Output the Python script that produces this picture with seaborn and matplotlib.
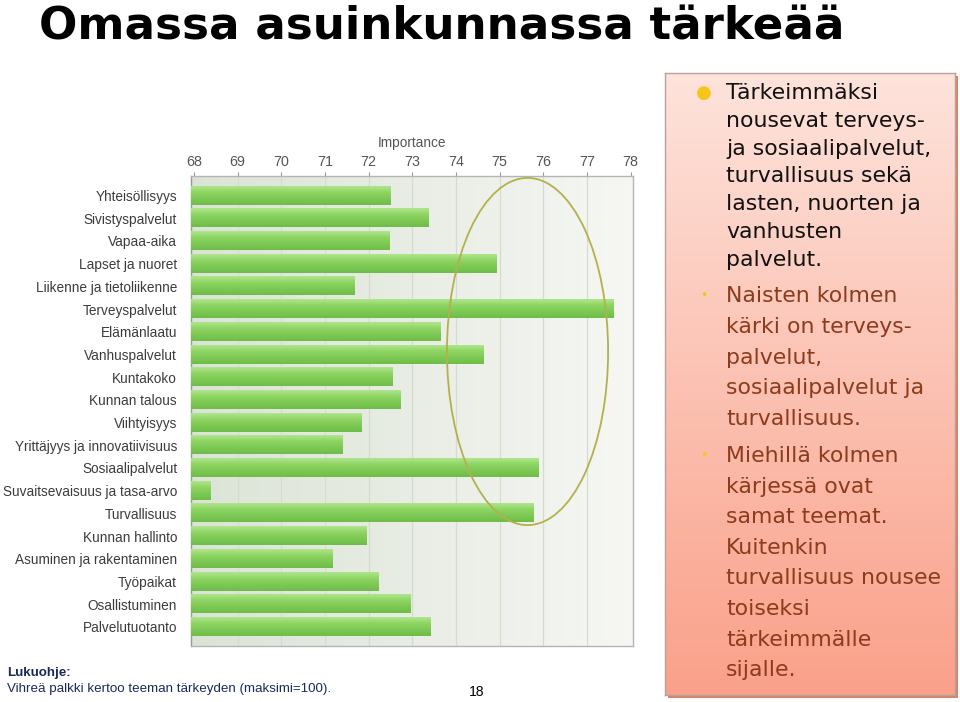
import numpy as np
import pandas as pd
import matplotlib.pyplot as plt
import seaborn as sns
from matplotlib import font_manager
from matplotlib.patches import Ellipse

# Teemat ja tärkeys (luettu kuvasta)
teemat = ['Yhteisöllisyys', 'Sivistyspalvelut', 'Vapaa-aika', 'Lapset ja nuoret',
          'Liikenne ja tietoliikenne', 'Terveyspalvelut', 'Elämänlaatu', 'Vanhuspalvelut',
          'Kuntakoko', 'Kunnan talous', 'Viihtyisyys', 'Yrittäjyys ja innovatiivisuus',
          'Sosiaalipalvelut', 'Suvaitsevaisuus ja tasa-arvo', 'Turvallisuus', 'Kunnan hallinto',
          'Asuminen ja rakentaminen', 'Työpaikat', 'Osallistuminen', 'Palvelutuotanto']
tarkeys = [72.50, 73.38, 72.47, 74.94, 71.68, 77.61, 73.65, 74.64, 72.55, 72.73,
           71.84, 71.41, 75.88, 68.38, 75.77, 71.95, 71.18, 72.23, 72.97, 73.41]
xticks = list(range(68, 79))

bullet1 = ['Tärkeimmäksi', 'nousevat terveys-', 'ja sosiaalipalvelut,', 'turvallisuus sekä',
           'lasten, nuorten ja', 'vanhusten', 'palvelut.']
bullet2 = ['Naisten kolmen', 'kärki on terveys-', 'palvelut,', 'sosiaalipalvelut ja',
           'turvallisuus.']
bullet3 = ['Miehillä kolmen', 'kärjessä ovat', 'samat teemat.', 'Kuitenkin',
           'turvallisuus nousee', 'toiseksi', 'tärkeimmälle', 'sijalle.']

df = pd.DataFrame({'Teema': teemat, 'Importance': tarkeys})

sns.set_theme(style='white')
plt.rcParams['font.family'] = ['DejaVu Sans']

names = {f.name for f in font_manager.fontManager.ttflist}
if 'Liberation Sans Narrow' in names:
    narrow, lab_size, foot_size = 'Liberation Sans Narrow', 11.5, 10.5
else:
    narrow, lab_size, foot_size = 'Liberation Sans', 9.8, 9.6

W, H = 960, 702
def px(x, y):
    return x / W, 1 - y / H

fig = plt.figure(figsize=(9.6, 7.02), dpi=100)
fig.patch.set_facecolor('white')

# title
fig.text(*px(39, 39), 'Omassa asuinkunnassa tärkeää', fontsize=32.6, fontweight='bold',
         color='black', va='baseline', ha='left')

# chart
ax = fig.add_axes([191 / W, 1 - 646 / H, 442 / W, 470 / H])
sns.barplot(data=df, y='Teema', x='Importance', color='#8fd466', width=0.8,
            saturation=1, ax=ax, zorder=2)
xl = (67.934, 78.055)
yl = (19.84, -0.86)

# background gradient
bg = np.linspace(0, 1, 256)[None, :, None]
c0 = np.array([0.86, 0.89, 0.84])
c1 = np.array([0.965, 0.97, 0.955])
ax.imshow(c0 + (c1 - c0) * bg, extent=[0, 1, 0, 1], transform=ax.transAxes,
          aspect='auto', zorder=0)
for t in xticks[1:-1]:
    ax.axvline(t, color='#d6dad0', lw=0.9, zorder=0.5)

# green gradient on bars
g = np.linspace(0, 1, 64)[:, None, None]
top = np.array([0.69, 0.90, 0.55])
mid = np.array([0.55, 0.83, 0.38])
bot = np.array([0.43, 0.74, 0.28])
grad = np.where(g < 0.35, top + (mid - top) * (g / 0.35), mid + (bot - mid) * ((g - 0.35) / 0.65))
for p in list(ax.patches):
    y0, h, w = p.get_y(), p.get_height(), p.get_width()
    ax.imshow(grad, extent=[xl[0], w, y0 + h, y0], aspect='auto', zorder=3)
    p.set_visible(False)
ax.set_xlim(*xl)
ax.set_ylim(*yl)

ax.add_patch(Ellipse((75.64, 6.87), 3.69, 15.29, fill=False, edgecolor='#b4b04c',
                     lw=1.3, zorder=5, clip_on=False))

ax.xaxis.tick_top()
ax.xaxis.set_label_position('top')
ax.set_xticks(xticks)
ax.set_xlabel('Importance', fontsize=lab_size, color='#555555', labelpad=6, family=narrow)
ax.set_ylabel('')
ax.tick_params(axis='x', top=True, length=3, width=0.8, color='#999999', pad=2,
               labelsize=lab_size + 0.5, labelcolor='#555555')
ax.tick_params(axis='y', left=False, pad=4, labelsize=lab_size, labelcolor='#3c3c3c')
for lab in ax.get_xticklabels() + ax.get_yticklabels():
    lab.set_family(narrow)
for s in ax.spines.values():
    s.set_color('#b5b5b5')
    s.set_linewidth(1)
ax.spines['left'].set_color('#9a9a9a')

# right text box with shadow
sh = fig.add_axes([668 / W, 1 - 698 / H, 290 / W, 622 / H], zorder=1)
sh.set_facecolor('#d9826a')
sh.set_xticks([])
sh.set_yticks([])
for s in sh.spines.values():
    s.set_visible(False)
bx = fig.add_axes([665 / W, 1 - 695 / H, 290 / W, 622 / H], zorder=2)
vg = np.linspace(0, 1, 256)[:, None, None]
p0 = np.array([0.995, 0.89, 0.86])
p1 = np.array([0.98, 0.63, 0.54])
bx.imshow(p0 + (p1 - p0) * vg, extent=[0, 1, 0, 1], aspect='auto')
bx.set_xticks([])
bx.set_yticks([])
for s in bx.spines.values():
    s.set_color('#b8a29c')
    s.set_linewidth(1)

brown = '#8c3b1c'
fs = 15.8
fig.text(*px(704, 93), '●', fontsize=13, color='#f5c518', ha='center', va='center', zorder=5)
for i, line in enumerate(bullet1):
    fig.text(*px(726, 93 + i * 27.8), line, fontsize=fs, color='#111111', va='center', zorder=5)
fig.text(*px(704, 296), '•', fontsize=9, color='#f5c518', ha='center', va='center', zorder=5)
for i, line in enumerate(bullet2):
    fig.text(*px(726, 296 + i * 30.75), line, fontsize=fs, color=brown, va='center', zorder=5)
fig.text(*px(704, 456), '•', fontsize=9, color='#f5c518', ha='center', va='center', zorder=5)
for i, line in enumerate(bullet3):
    fig.text(*px(726, 456 + i * 30.6), line, fontsize=fs, color=brown, va='center', zorder=5)

# footnote
fig.text(*px(7, 673), 'Lukuohje:', fontsize=foot_size, fontweight='bold', color='#1b2a5c',
         va='center', family=narrow)
fig.text(*px(7, 689), 'Vihreä palkki kertoo teeman tärkeyden (maksimi=100).',
         fontsize=foot_size, color='#1b2a5c', va='center', family=narrow)
fig.text(*px(477, 692), '18', fontsize=foot_size + 0.5, color='black', ha='center',
         va='center', family=narrow)

fig.savefig('out.png', dpi=100)
